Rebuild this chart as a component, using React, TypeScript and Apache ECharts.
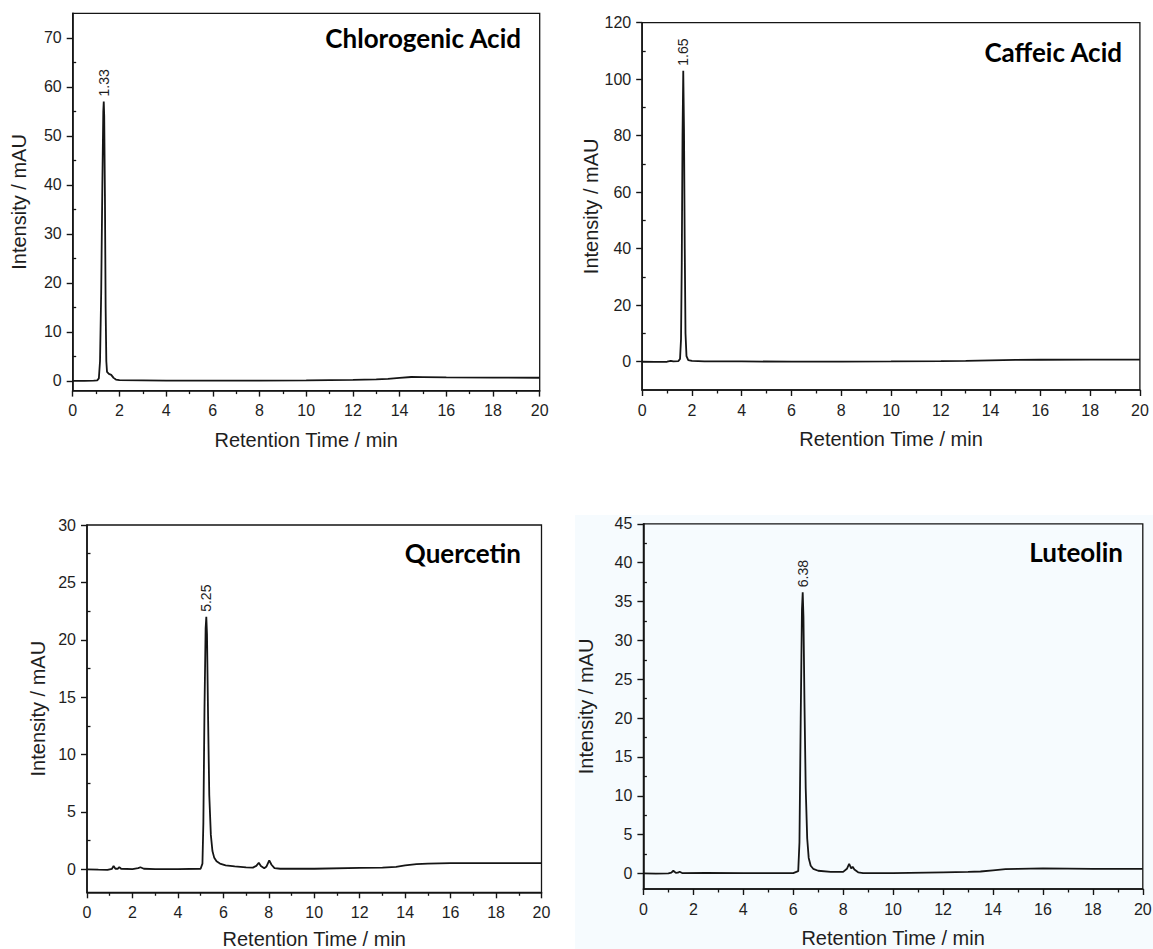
import React, { useEffect, useRef } from "react";
import * as echarts from "echarts";

// ---- data (retention time in min, intensity in mAU) ----
const chlorogenic: [number, number][] = [
  [0, 0], [0.5, 0], [0.9, 0.02], [1.05, 0.1], [1.12, 0.5], [1.17, 4], [1.22, 18], [1.27, 40], [1.31, 55], [1.33, 57],
  [1.35, 54], [1.38, 38], [1.41, 15], [1.44, 4], [1.47, 1.8], [1.55, 1.4], [1.65, 1.2], [1.75, 0.6], [1.85, 0.25],
  [2.0, 0.12], [3, 0.08], [4, 0.05], [6, 0.03], [8, 0.05], [10, 0.1], [12, 0.2], [13, 0.3], [13.5, 0.4], [14, 0.6],
  [14.5, 0.78], [15, 0.75], [16, 0.68], [18, 0.65], [20, 0.62],
];
const caffeic: [number, number][] = [
  [0, 0], [0.5, -0.05], [1.0, 0], [1.15, 0.3], [1.25, 0.1], [1.45, 0.2], [1.52, 1], [1.56, 8], [1.59, 35], [1.62, 80],
  [1.65, 103], [1.68, 82], [1.71, 40], [1.74, 10], [1.78, 2], [1.85, 0.6], [2, 0.3], [2.5, 0.15], [4, 0.1], [6, 0.05],
  [8, 0.05], [10, 0.1], [12, 0.2], [13, 0.3], [14, 0.5], [15, 0.65], [16, 0.7], [18, 0.75], [20, 0.75],
];
const quercetin: [number, number][] = [
  [0, 0], [0.5, -0.03], [0.9, -0.05], [1.1, 0.05], [1.17, 0.3], [1.25, 0.05], [1.35, 0.05], [1.42, 0.2], [1.5, 0.05],
  [2.0, 0.02], [2.25, 0.1], [2.35, 0.18], [2.5, 0.05], [3, 0.02], [4, 0.02], [5, 0.05], [5.08, 0.5], [5.12, 4],
  [5.17, 14], [5.22, 21], [5.25, 22], [5.28, 20.5], [5.33, 13], [5.38, 6.5], [5.45, 3], [5.52, 1.6], [5.6, 1.0],
  [5.7, 0.7], [5.85, 0.5], [6.1, 0.35], [6.5, 0.25], [7.0, 0.18], [7.3, 0.15], [7.45, 0.3], [7.56, 0.58], [7.65, 0.3],
  [7.8, 0.1], [7.9, 0.25], [8.02, 0.78], [8.12, 0.4], [8.25, 0.1], [8.5, 0.05], [10, 0.05], [12, 0.12], [13, 0.15],
  [13.6, 0.22], [14, 0.35], [14.5, 0.45], [15, 0.5], [16, 0.55], [18, 0.55], [20, 0.55],
];
const luteolin: [number, number][] = [
  [0, 0], [0.5, -0.02], [1.0, 0.0], [1.12, 0.1], [1.2, 0.35], [1.3, 0.08], [1.38, 0.1], [1.45, 0.22], [1.55, 0.05],
  [2.5, 0.08], [4, 0.05], [5, 0.05], [6.0, 0.05], [6.2, 0.3], [6.25, 4], [6.3, 20], [6.35, 34], [6.38, 36.2],
  [6.41, 33], [6.45, 22], [6.5, 11], [6.56, 4.5], [6.62, 2], [6.7, 1.0], [6.8, 0.6], [7.0, 0.35], [7.5, 0.2],
  [8.0, 0.2], [8.15, 0.6], [8.24, 1.25], [8.32, 0.65], [8.38, 0.85], [8.45, 0.5], [8.6, 0.15], [8.8, 0.05],
  [10, 0.05], [12, 0.15], [13, 0.2], [13.5, 0.25], [14, 0.4], [14.5, 0.55], [15, 0.6], [16, 0.65], [18, 0.6], [20, 0.6],
];

const compoundNames = ["Chlorogenic Acid", "Caffeic Acid", "Quercetin", "Luteolin"];
const peakTimes = [1.33, 1.65, 5.25, 6.38];
const peakHeights = [57, 103, 22, 36.2];
const peakLabels = ["1.33", "1.65", "5.25", "6.38"];

const yRanges: [number, number][] = [[-2, 75], [-10, 120], [-2, 30], [-2, 45]];
const yMajorTicks = [
  [0, 10, 20, 30, 40, 50, 60, 70],
  [0, 20, 40, 60, 80, 100, 120],
  [0, 5, 10, 15, 20, 25, 30],
  [0, 5, 10, 15, 20, 25, 30, 35, 40, 45],
];
const yMinorTicks = [
  [5, 15, 25, 35, 45, 55, 65],
  [10, 30, 50, 70, 90, 110],
  [2.5, 7.5, 12.5, 17.5, 22.5, 27.5],
  [2.5, 7.5, 12.5, 17.5, 22.5, 27.5, 32.5, 37.5, 42.5],
];
const xRange: [number, number] = [0, 20];
const xInterval = 2;

const xAxisName = "Retention Time / min";
const yAxisName = "Intensity / mAU";

// ---- layout (pixels) ----
const grids = [
  { left: 72.7, top: 13.3, width: 467, height: 377.3 },
  { left: 642.2, top: 22.7, width: 497.7, height: 367.3 },
  { left: 87, top: 525, width: 454.5, height: 367.3 },
  { left: 643.4, top: 523.8, width: 499.4, height: 365.2 },
];
const titlePos = [[521, 38], [1122, 52], [521, 553], [1123, 552]];
const yNameGaps = [44, 41, 39, 47];
const xNameGaps = [39, 39, 37, 39];

const datasets = [chlorogenic, caffeic, quercetin, luteolin];

const INK = "#151515";
const TEXT = "#1e1e1e";

export default function App() {
  const ref = useRef<HTMLDivElement>(null);
  useEffect(() => {
    if (!ref.current) return;
    const chart = echarts.init(ref.current, undefined, { renderer: "svg" });
    const grid: any[] = [];
    const xAxis: any[] = [];
    const yAxis: any[] = [];
    const series: any[] = [];
    const graphic: any[] = [
      { type: "rect", z: -10, shape: { x: 575, y: 515, width: 578, height: 434 }, style: { fill: "#f6fbfe" } },
    ];
    for (let i = 0; i < 4; i++) {
      grid.push({
        ...grids[i],
        show: true,
        borderColor: INK,
        borderWidth: 1.3,
        backgroundColor: "transparent",
        containLabel: false,
        outerBoundsMode: "none",
      });
      xAxis.push({
        type: "value",
        gridIndex: i,
        min: xRange[0],
        max: xRange[1],
        interval: xInterval,
        name: xAxisName,
        nameLocation: "middle",
        nameGap: xNameGaps[i],
        nameTextStyle: { fontFamily: "Liberation Sans", fontSize: 20, color: TEXT },
        axisLine: { onZero: false, lineStyle: { color: INK, width: 1.6 } },
        axisTick: { length: 6, lineStyle: { color: INK, width: 1.4 } },
        minorTick: { show: true, splitNumber: 2, length: 3.5, lineStyle: { color: INK, width: 1.3 } },
        axisLabel: { margin: 12, fontFamily: "Liberation Sans", fontSize: 16, color: TEXT },
        splitLine: { show: false },
        minorSplitLine: { show: false },
      });
      yAxis.push({
        type: "value",
        gridIndex: i,
        min: yRanges[i][0],
        max: yRanges[i][1],
        name: yAxisName,
        nameLocation: "middle",
        nameGap: yNameGaps[i],
        nameTextStyle: { fontFamily: "Liberation Sans", fontSize: 20, color: TEXT },
        axisLine: { onZero: false, lineStyle: { color: INK, width: 1.6 } },
        axisTick: { length: 6, customValues: yMajorTicks[i], lineStyle: { color: INK, width: 1.4 } },
        axisLabel: { margin: 11, customValues: yMajorTicks[i], fontFamily: "Liberation Sans", fontSize: 16, color: TEXT },
        splitLine: { show: false },
      });
      yAxis.push({
        type: "value",
        gridIndex: i,
        min: yRanges[i][0],
        max: yRanges[i][1],
        axisLine: { show: false },
        axisTick: { length: 3.5, customValues: yMinorTicks[i], lineStyle: { color: INK, width: 1.3 } },
        axisLabel: { show: false },
        splitLine: { show: false },
      });
      series.push({
        type: "line",
        xAxisIndex: i,
        yAxisIndex: i * 2,
        data: datasets[i],
        showSymbol: false,
        symbol: "none",
        smooth: false,
        lineStyle: { color: INK, width: 1.8 },
        markPoint: {
          symbol: "circle",
          symbolSize: 0,
          data: [{ coord: [peakTimes[i], peakHeights[i]] }],
          label: {
            show: true,
            formatter: peakLabels[i],
            position: "top",
            distance: 5,
            rotate: 90,
            align: "left",
            verticalAlign: "middle",
            fontFamily: "Liberation Sans",
            fontSize: 14,
            color: TEXT,
          },
        },
      });
      graphic.push({
        type: "text",
        x: titlePos[i][0],
        y: titlePos[i][1],
        style: {
          text: compoundNames[i],
          fill: "#000",
          font: "bold 26px Lato",
          align: "right",
          verticalAlign: "middle",
        },
      });
    }
    chart.setOption({
      animation: false,
      backgroundColor: "#ffffff",
      grid,
      xAxis,
      yAxis,
      series,
      graphic,
    });
    return () => chart.dispose();
  }, []);
  return (
    <div
      ref={ref}
      style={{ position: "absolute", left: 0, top: 0, width: 1153, height: 949 }}
    />
  );
}
